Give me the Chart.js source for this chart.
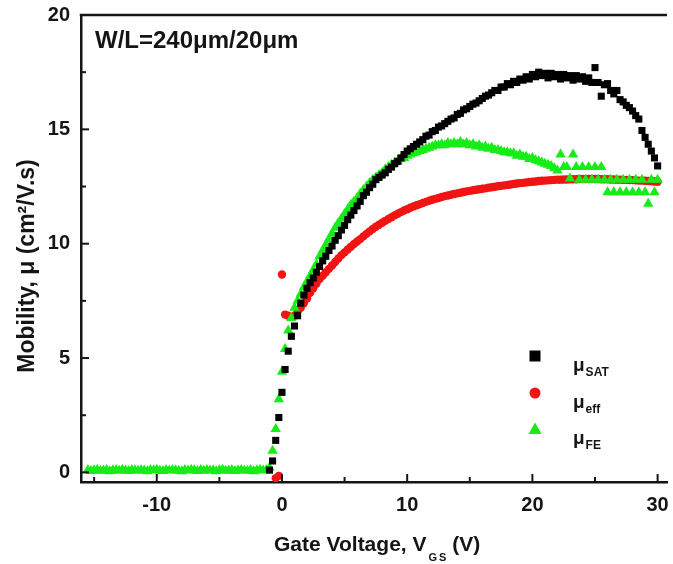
<!DOCTYPE html>
<html><head><meta charset="utf-8">
<script src="https://cdn.jsdelivr.net/npm/chart.js@4/dist/chart.umd.min.js"></script>
<style>html,body{margin:0;padding:0;background:#fff}#wrap{width:673px;height:564px;position:relative}</style>
</head><body><div id="wrap"><canvas id="c"></canvas></div>
<script>
// Gate voltage (V) for the off region (only μFE visible there)
const vgsOff = [-15.5,-15.25,-15,-14.75,-14.5,-14.25,-14,-13.75,-13.5,-13.25,-13,-12.75,-12.5,-12.25,-12,-11.75,-11.5,-11.25,-11,-10.75,-10.5,-10.25,-10,-9.75,-9.5,-9.25,-9,-8.75,-8.5,-8.25,-8,-7.75,-7.5,-7.25,-7,-6.75,-6.5,-6.25,-6,-5.75,-5.5,-5.25,-5,-4.75,-4.5,-4.25,-4,-3.75,-3.5,-3.25,-3,-2.75,-2.5,-2.25,-2,-1.75,-1.5,-1.25];
const feOff = [0.1,0.06,0.09,0.12,0.07,0.08,0.11,0.05,0.09,0.1,0.07,0.12,0.08,0.06,0.1,0.09,0.07,0.11,0.08,0.05,0.1,0.09,0.12,0.07,0.06,0.1,0.08,0.11,0.09,0.07,0.05,0.1,0.08,0.12,0.09,0.06,0.1,0.07,0.11,0.08,0.09,0.05,0.1,0.12,0.07,0.08,0.1,0.06,0.09,0.11,0.08,0.07,0.1,0.05,0.09,0.12,0.08,0.1];
// Gate voltage (V) for the on region
const vgsOn = [-1,-0.75,-0.5,-0.25,
0,0.25,0.5,0.75,1,1.25,1.5,1.75,2,2.25,2.5,2.75,3,3.25,3.5,3.75,4,4.25,4.5,4.75,5,5.25,5.5,5.75,6,6.25,6.5,6.75,7,7.25,7.5,7.75,8,8.25,8.5,8.75,9,9.25,9.5,9.75,
10,10.25,10.5,10.75,11,11.25,11.5,11.75,12,12.25,12.5,12.75,13,13.25,13.5,13.75,14,14.25,14.5,14.75,15,15.25,15.5,15.75,16,16.25,16.5,16.75,17,17.25,17.5,17.75,18,18.25,18.5,18.75,19,19.25,19.5,19.75,
20,20.25,20.5,20.75,21,21.25,21.5,21.75,22,22.25,22.5,22.75,23,23.25,23.5,23.75,24,24.25,24.5,24.75,25,25.25,25.5,25.75,26,26.25,26.5,26.75,27,27.25,27.5,27.75,28,28.25,28.5,28.75,29,29.25,29.5,29.75,30];
const muSat = [0.1,0.5,1.4,2.4,
3.5,4.5,5.3,5.95, 6.4,6.85,7.4,7.75, 8.05,8.3,8.5,8.75, 9.0,9.25,9.45,9.7, 9.9,10.15,10.35,10.6, 10.8,11.05,11.25,11.45, 11.65,11.85,12.1,12.25, 12.45,12.6,12.8,12.9, 13.0,13.1,13.25,13.35, 13.5,13.6,13.75,13.9,
14.05,14.15,14.25,14.35, 14.45,14.55,14.7,14.75, 14.9,14.95,15.1,15.15, 15.25,15.35,15.45,15.5, 15.65,15.7,15.85,15.9, 16.0,16.1,16.15,16.25, 16.35,16.45,16.5,16.6, 16.7,16.7,16.85,16.85, 17.0,16.95,17.1,17.05, 17.2,17.15,17.3,17.2,
17.4,17.3,17.5,17.35, 17.45,17.25,17.45,17.3, 17.4,17.2,17.4,17.25, 17.35,17.15,17.35,17.2, 17.3,17.1,17.25,17.05, 17.7,17.05,16.45,16.95, 17.0,16.7,16.55,16.7, 16.3,16.2,16.05,15.95, 15.8,15.6,15.45,14.95, 14.65,14.35,14.05,13.75, 13.4];
const muEff = [null,null,-0.25,-0.15,
8.65,6.9,6.85,6.8, 6.85,7.05,7.2,7.4, 7.6,7.85,8.05,8.25, 8.45,8.6,8.75,8.9, 9.05,9.2,9.35,9.5, 9.62,9.75,9.87,9.99, 10.1,10.2,10.32,10.43, 10.54,10.64,10.74,10.83, 10.92,11.0,11.08,11.16, 11.24,11.31,11.38,11.45,
11.51,11.57,11.63,11.68, 11.73,11.78,11.83,11.88, 11.92,11.96,12.0,12.04, 12.08,12.11,12.14,12.17, 12.2,12.23,12.26,12.29, 12.31,12.34,12.36,12.38, 12.4,12.42,12.45,12.47, 12.49,12.51,12.53,12.55, 12.57,12.59,12.61,12.63, 12.65,12.66,12.68,12.7,
12.71,12.72,12.74,12.75, 12.76,12.77,12.78,12.79, 12.8,12.8,12.81,12.81, 12.82,12.82,12.82,12.83, 12.83,12.83,12.83,12.83, 12.83,12.83,12.82,12.82, 12.82,12.81,12.81,12.8, 12.8,12.79,12.79,12.78, 12.78,12.77,12.76,12.76, 12.75,12.74,12.73,12.72, 12.71];
const muFe = [0.2,0.95,1.9,3.2,
4.4,5.4,6.2,6.75, 7.2,7.5,7.8,8.1, 8.35,8.6,8.85,9.1, 9.45,9.7,9.95,10.2, 10.45,10.7,10.9,11.1, 11.3,11.5,11.7,11.85, 12.0,12.2,12.35,12.5, 12.65,12.8,12.9,13.0, 13.1,13.25,13.35,13.45, 13.55,13.6,13.7,13.75,
13.85,13.9,13.95,14.0, 14.05,14.1,14.15,14.2, 14.25,14.3,14.3,14.35, 14.3,14.4,14.35,14.4, 14.35,14.45,14.35,14.4, 14.3,14.35,14.25,14.3, 14.2,14.25,14.15,14.2, 14.1,14.1,14.05,14.0, 14.0,13.95,13.95,13.85, 13.9,13.8,13.8,13.7,
13.75,13.65,13.6,13.55, 13.5,13.45,13.4,13.3, 13.2,13.9,13.35,13.35, 12.85,13.9,13.35,12.8, 13.35,12.8,13.35,12.8, 13.35,12.8,13.35,12.8, 12.25,12.8,12.25,12.8, 12.25,12.8,12.25,12.8, 12.25,12.8,12.25,12.8, 12.25,11.75,12.8,12.25, 12.8];

const xMajorTicks = [-10,0,10,20,30];
const xMinorTicks = [-15,-5,5,15,25];
const yMajorTicks = [0,5,10,15,20];
const yMinorTicks = [2.5,7.5,12.5,17.5];
const legendSubs = ['SAT','eff','FE'];

const FONT = '"Liberation Sans", Arial, sans-serif';
const INK = '#151515';
const C_SAT = '#000000', C_EFF = '#f01414', C_FE = '#18ec18';

function pts(xs, ys){ const out=[]; xs.forEach((v,i)=>{ if(ys[i]!==null) out.push({x:v,y:ys[i]}); }); return out; }

const decor = {
  id:'decor',
  afterDraw(chart){
    const {ctx, chartArea:a, scales:{x,y}} = chart;
    ctx.save();
    ctx.strokeStyle = INK; ctx.lineCap='butt';
    ctx.lineWidth = 2.5;
    ctx.beginPath(); ctx.moveTo(a.left-1.25, a.top); ctx.lineTo(a.right, a.top); ctx.stroke();
    ctx.lineWidth = 2;
    const tick=(x1,y1,x2,y2)=>{ctx.beginPath();ctx.moveTo(x1,y1);ctx.lineTo(x2,y2);ctx.stroke();};
    xMajorTicks.forEach(v=>{const p=x.getPixelForValue(v); tick(p,a.bottom,p,a.bottom-8);});
    xMinorTicks.forEach(v=>{const p=x.getPixelForValue(v); tick(p,a.bottom,p,a.bottom-5);});
    yMajorTicks.forEach(v=>{const p=y.getPixelForValue(v); tick(a.left,p,a.left+8,p);});
    yMinorTicks.forEach(v=>{const p=y.getPixelForValue(v); tick(a.left,p,a.left+5,p);});

    ctx.fillStyle = INK;
    ctx.textAlign='left'; ctx.textBaseline='alphabetic';
    // annotation
    ctx.font = 'bold 24px '+FONT;
    ctx.fillText('W/L=240μm/20μm', 95, 48);
    // y title
    ctx.save();
    ctx.translate(34, 266); ctx.rotate(-Math.PI/2);
    ctx.textAlign='center';
    ctx.font = 'bold 23px '+FONT;
    ctx.fillText('Mobility, μ (cm²/V.s)', 0, 0);
    ctx.restore();
    // x title
    ctx.font = 'bold 21px '+FONT;
    let t1='Gate Voltage, V';
    ctx.fillText(t1, 274, 551);
    let xx = 274 + ctx.measureText(t1).width + 2;
    ctx.font = 'bold 11px '+FONT;
    ctx.fillText('G', xx, 561); xx += ctx.measureText('G').width + 2;
    ctx.fillText('S', xx, 561); xx += ctx.measureText('S').width;
    ctx.font = 'bold 21px '+FONT;
    ctx.fillText(' (V)', xx, 551);

    // legend
    const lx = 535;
    const rows=[356,393,429];
    ctx.fillStyle = C_SAT; ctx.fillRect(lx-5.5, rows[0]-5.5, 11, 11);
    ctx.fillStyle = C_EFF; ctx.beginPath(); ctx.arc(lx, rows[1], 5.5, 0, Math.PI*2); ctx.fill();
    ctx.fillStyle = C_FE; ctx.beginPath(); ctx.moveTo(lx, rows[2]-6.5); ctx.lineTo(lx+6.5, rows[2]+5); ctx.lineTo(lx-6.5, rows[2]+5); ctx.closePath(); ctx.fill();
    ctx.fillStyle = INK;
    legendSubs.forEach((s,i)=>{
      const base = rows[i]+15;
      ctx.font = 'bold 19px '+FONT;
      ctx.fillText('μ', 573, base);
      const w = ctx.measureText('μ').width;
      ctx.font = 'bold 12px '+FONT;
      ctx.fillText(s, 573+w+1, base+5);
    });
    ctx.restore();
  }
};

new Chart(document.getElementById('c'), {
  type:'scatter',
  data:{datasets:[
    {label:'μSAT', data:pts(vgsOn, muSat), pointStyle:'rect', pointRadius:5, backgroundColor:C_SAT, borderWidth:0, order:0},
    {label:'μFE', data:pts(vgsOff, feOff).concat(pts(vgsOn, muFe)), pointStyle:'triangle', pointRadius:6, backgroundColor:C_FE, borderWidth:0, order:1},
    {label:'μeff', data:pts(vgsOn, muEff), pointStyle:'circle', pointRadius:4.2, backgroundColor:C_EFF, borderWidth:0, order:2}
  ]},
  options:{
    responsive:true, maintainAspectRatio:false, animation:false,
    layout:{padding:{top:15,left:0,right:0,bottom:0}},
    plugins:{legend:{display:false}, tooltip:{enabled:false}},
    elements:{point:{hoverRadius:0}},
    scales:{
      x:{type:'linear', position:'bottom', min:-16.05, max:30.75,
        afterBuildTicks(s){ s.ticks = xMajorTicks.map(v=>({value:v})); },
        afterFit(s){ s.height = 82; s.paddingLeft = 0; s.paddingRight = 0; },
        grid:{display:false, drawTicks:false},
        border:{display:true, color:INK, width:2.5},
        ticks:{padding:11, color:INK, maxRotation:0, autoSkip:false, font:{family:FONT, size:20, weight:'bold'}}
      },
      y:{type:'linear', position:'left', min:-0.42, max:20,
        afterBuildTicks(s){ s.ticks = yMajorTicks.map(v=>({value:v})); },
        afterFit(s){ s.width = 81; s.paddingTop = 0; s.paddingBottom = 0; },
        grid:{display:false, drawTicks:false},
        border:{display:true, color:INK, width:2.5},
        ticks:{padding:11, color:INK, font:{family:FONT, size:20, weight:'bold'}}
      }
    }
  },
  plugins:[decor]
});
</script>
</body></html>
